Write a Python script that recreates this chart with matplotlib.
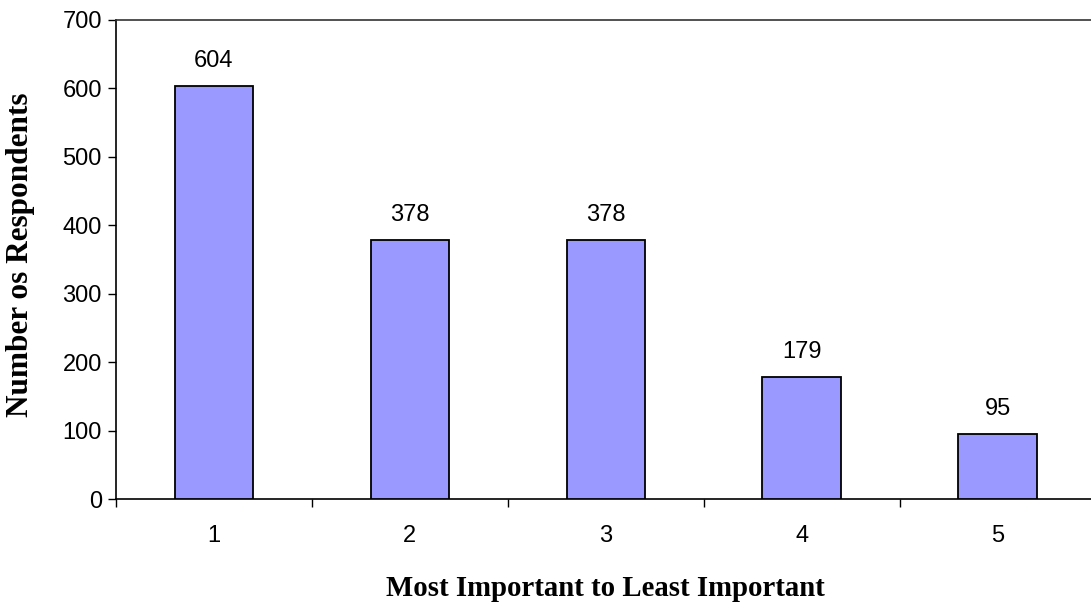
import matplotlib
matplotlib.use("Agg")
import matplotlib.pyplot as plt
import numpy as np

# Survey results: respondents by ranking position
categories = ["1", "2", "3", "4", "5"]
respondents = [604, 378, 378, 179, 95]
y_ticks = [0, 100, 200, 300, 400, 500, 600, 700]

fig = plt.figure(figsize=(10.91, 6.08), dpi=100)
W, H = 1091, 608
ax = fig.add_axes([115.7 / W, 109 / H, 980 / W, 479 / H])

x = np.arange(len(categories))
bars = ax.bar(x, respondents, width=0.4, color="#9999FF",
              edgecolor="black", linewidth=1.3, zorder=3)

for xi, v in zip(x, respondents):
    ax.annotate(f"{v}", (xi, v), xytext=(0, 10), textcoords="offset points",
                ha="center", va="bottom", fontsize=17,
                family="Liberation Sans")

ax.set_xlim(-0.5, len(categories) - 0.5)
ax.set_ylim(0, 700)
ax.set_yticks(y_ticks)
ax.set_yticklabels([str(t) for t in y_ticks], family="Liberation Sans",
                   fontsize=17)
ax.set_xticks(x)
ax.set_xticklabels(categories, family="Liberation Sans", fontsize=17)
ax.set_xticks(np.arange(-0.5, len(categories) + 0.5, 1.0), minor=True)

ax.tick_params(axis="y", direction="out", length=6, width=1, pad=4)
ax.tick_params(axis="x", which="major", length=0, pad=19)
ax.tick_params(axis="x", which="minor", direction="out", length=6, width=1)

for side in ["left", "bottom"]:
    ax.spines[side].set_color("black")
    ax.spines[side].set_linewidth(1.2)
ax.spines["top"].set_color("#333333")
ax.spines["top"].set_linewidth(1.2)
ax.spines["right"].set_visible(False)

ax.set_xlabel("Most Important to Least Important", family="Liberation Serif",
              fontweight="bold", fontsize=20.7, labelpad=20)
ax.set_ylabel("Number os Respondents", family="Liberation Serif",
              fontweight="bold", fontsize=22.5)
ax.yaxis.set_label_coords(-0.082, 0.51)

fig.savefig("out.png", dpi=100)
